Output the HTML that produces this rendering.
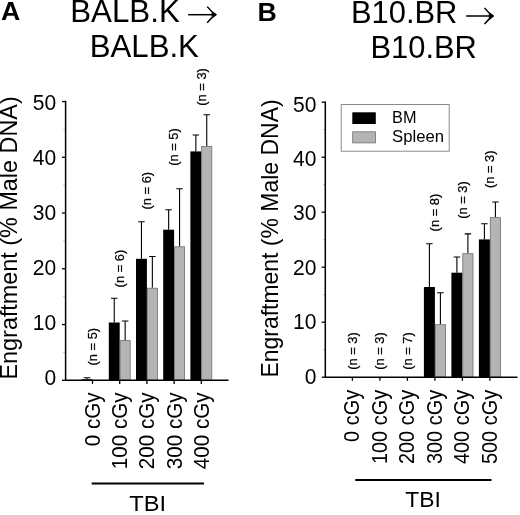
<!DOCTYPE html>
<html lang="en"><head><meta charset="utf-8"><title>Engraftment vs TBI</title>
<style>
html,body{margin:0;padding:0;background:#fff;}
body{width:520px;height:515px;overflow:hidden;}
svg{display:block;will-change:transform;filter:grayscale(1);font-family:"Liberation Sans",Arial,Helvetica,sans-serif;fill:#000;}
.eb{stroke:#000;stroke-width:1.1;fill:none;}
.gb{fill:#b4b4b4;stroke:#6e6e6e;stroke-width:0.8;}
.ax{stroke:#000;stroke-width:1.5;fill:none;}
.tk{stroke:#000;stroke-width:1.3;fill:none;}
.mt{stroke:#c8c8c8;stroke-width:1;fill:none;}
.pl{font-size:26.7px;font-weight:bold;}
.tt{font-size:32px;text-anchor:start;}
.yl{font-size:23.6px;}
.yt{font-size:22.8px;text-anchor:end;}
.xt{font-size:21.6px;text-anchor:end;}
.nl{font-size:12.9px;stroke:#000;stroke-width:0.25px;}
.tb{font-size:22.6px;text-anchor:middle;}
.lg{font-size:16.2px;}
</style></head><body>
<svg width="520" height="515" viewBox="0 0 520 515">
<rect width="520" height="515" fill="#fff"/>
<g id="panelA">
<text x="1.1" y="19.5" class="pl">A</text>
<text x="70.2" y="21.8" class="tt" textLength="109.6" lengthAdjust="spacingAndGlyphs">BALB.K</text>
<path d="M188.20 14.70H215.10" stroke="#000" stroke-width="1.5" fill="none"/><path d="M207.20 6.60Q211.00 11.40 216.00 14.70Q211.00 18.00 207.20 22.80" stroke="#000" stroke-width="1.5" fill="none" stroke-linejoin="round"/><path d="M216.60 14.70L211.60 12.30V17.10Z" fill="#000"/>
<text x="89.7" y="57.0" class="tt" textLength="109.2" lengthAdjust="spacingAndGlyphs">BALB.K</text>
<text transform="translate(17.00 379.50) rotate(-90)" class="yl" textLength="283.2" lengthAdjust="spacingAndGlyphs">Engraftment (% Male DNA)</text>
<path d="M62.00 380.30H65.60" class="tk"/>
<text x="56.1" y="385.40" class="yt" textLength="11.7" lengthAdjust="spacingAndGlyphs">0</text>
<path d="M62.00 324.55H65.60" class="tk"/>
<text x="56.1" y="330.30" class="yt" textLength="23.4" lengthAdjust="spacingAndGlyphs">10</text>
<path d="M62.00 268.80H65.60" class="tk"/>
<text x="56.1" y="275.20" class="yt" textLength="23.4" lengthAdjust="spacingAndGlyphs">20</text>
<path d="M62.00 213.05H65.60" class="tk"/>
<text x="56.1" y="220.10" class="yt" textLength="23.4" lengthAdjust="spacingAndGlyphs">30</text>
<path d="M62.00 157.30H65.60" class="tk"/>
<text x="56.1" y="165.00" class="yt" textLength="23.4" lengthAdjust="spacingAndGlyphs">40</text>
<path d="M62.00 101.55H65.60" class="tk"/>
<text x="56.1" y="109.90" class="yt" textLength="23.4" lengthAdjust="spacingAndGlyphs">50</text>
<path d="M63.10 352.43H65.60" class="mt"/>
<path d="M63.10 296.68H65.60" class="mt"/>
<path d="M63.10 240.93H65.60" class="mt"/>
<path d="M63.10 185.18H65.60" class="mt"/>
<path d="M63.10 129.43H65.60" class="mt"/>
<path d="M87.05 379.30V377.80M83.80 377.80H90.30" class="eb"/>
<rect x="81.60" y="379.30" width="10.90" height="1.00" fill="#000"/>
<path d="M114.25 322.50V298.30M111.00 298.30H117.50" class="eb"/>
<rect x="108.80" y="322.50" width="10.90" height="57.80" fill="#000"/>
<path d="M125.15 340.20V321.00M121.90 321.00H128.40" class="eb"/>
<rect x="120.10" y="340.60" width="10.10" height="39.70" class="gb"/>
<path d="M141.45 258.80V221.70M138.20 221.70H144.70" class="eb"/>
<rect x="136.00" y="258.80" width="10.90" height="121.50" fill="#000"/>
<path d="M152.35 287.80V256.50M149.10 256.50H155.60" class="eb"/>
<rect x="147.30" y="288.20" width="10.10" height="92.10" class="gb"/>
<path d="M168.65 229.70V209.80M165.40 209.80H171.90" class="eb"/>
<rect x="163.20" y="229.70" width="10.90" height="150.60" fill="#000"/>
<path d="M179.55 246.40V188.80M176.30 188.80H182.80" class="eb"/>
<rect x="174.50" y="246.80" width="10.10" height="133.50" class="gb"/>
<path d="M195.85 151.40V135.00M192.60 135.00H199.10" class="eb"/>
<rect x="190.40" y="151.40" width="10.90" height="228.90" fill="#000"/>
<path d="M206.75 146.00V114.70M203.50 114.70H210.00" class="eb"/>
<rect x="201.70" y="146.40" width="10.10" height="233.90" class="gb"/>
<path d="M65.60 100.85V380.30H228.5" class="ax"/>
<path d="M92.50 380.30V383.90" class="tk"/>
<text transform="translate(99.90 392.50) rotate(-90)" class="xt" textLength="53.8" lengthAdjust="spacingAndGlyphs">0 cGy</text>
<path d="M119.70 380.30V383.90" class="tk"/>
<text transform="translate(127.10 392.50) rotate(-90)" class="xt" textLength="76.7" lengthAdjust="spacingAndGlyphs">100 cGy</text>
<path d="M146.90 380.30V383.90" class="tk"/>
<text transform="translate(154.30 392.50) rotate(-90)" class="xt" textLength="76.7" lengthAdjust="spacingAndGlyphs">200 cGy</text>
<path d="M174.10 380.30V383.90" class="tk"/>
<text transform="translate(181.50 392.50) rotate(-90)" class="xt" textLength="76.7" lengthAdjust="spacingAndGlyphs">300 cGy</text>
<path d="M201.30 380.30V383.90" class="tk"/>
<text transform="translate(208.70 392.50) rotate(-90)" class="xt" textLength="76.7" lengthAdjust="spacingAndGlyphs">400 cGy</text>
<text transform="translate(96.70 365.50) rotate(-90)" class="nl">(n = 5)</text>
<text transform="translate(123.90 287.40) rotate(-90)" class="nl">(n = 6)</text>
<text transform="translate(151.10 209.50) rotate(-90)" class="nl">(n = 6)</text>
<text transform="translate(178.30 165.80) rotate(-90)" class="nl">(n = 5)</text>
<text transform="translate(205.50 105.70) rotate(-90)" class="nl">(n = 3)</text>
<path d="M91.7 483.5H204" stroke="#000" stroke-width="2.2"/>
<text x="147.6" y="511.1" class="tb" textLength="36.8" lengthAdjust="spacingAndGlyphs">TBI</text>
</g>
<g id="panelB">
<text x="257.5" y="20.5" class="pl">B</text>
<text x="351.0" y="23.4" class="tt" style="font-size:31.2px" textLength="106.4" lengthAdjust="spacingAndGlyphs">B10.BR</text>
<path d="M466.10 16.00H492.30" stroke="#000" stroke-width="1.5" fill="none"/><path d="M484.40 7.90Q488.20 12.70 493.20 16.00Q488.20 19.30 484.40 24.10" stroke="#000" stroke-width="1.5" fill="none" stroke-linejoin="round"/><path d="M493.80 16.00L488.80 13.60V18.40Z" fill="#000"/>
<text x="370.5" y="58.0" class="tt" style="font-size:31.2px" textLength="106.4" lengthAdjust="spacingAndGlyphs">B10.BR</text>
<text transform="translate(277.60 377.60) rotate(-90)" class="yl" textLength="278.2" lengthAdjust="spacingAndGlyphs">Engraftment (% Male DNA)</text>
<path d="M321.70 377.20H325.30" class="tk"/>
<text x="316.4" y="383.50" class="yt" textLength="11.7" lengthAdjust="spacingAndGlyphs">0</text>
<path d="M321.70 322.20H325.30" class="tk"/>
<text x="316.4" y="329.12" class="yt" textLength="23.4" lengthAdjust="spacingAndGlyphs">10</text>
<path d="M321.70 267.20H325.30" class="tk"/>
<text x="316.4" y="274.74" class="yt" textLength="23.4" lengthAdjust="spacingAndGlyphs">20</text>
<path d="M321.70 212.20H325.30" class="tk"/>
<text x="316.4" y="220.36" class="yt" textLength="23.4" lengthAdjust="spacingAndGlyphs">30</text>
<path d="M321.70 157.20H325.30" class="tk"/>
<text x="316.4" y="165.98" class="yt" textLength="23.4" lengthAdjust="spacingAndGlyphs">40</text>
<path d="M321.70 102.20H325.30" class="tk"/>
<text x="316.4" y="111.60" class="yt" textLength="23.4" lengthAdjust="spacingAndGlyphs">50</text>
<path d="M322.80 349.70H325.30" class="mt"/>
<path d="M322.80 294.70H325.30" class="mt"/>
<path d="M322.80 239.70H325.30" class="mt"/>
<path d="M322.80 184.70H325.30" class="mt"/>
<path d="M322.80 129.70H325.30" class="mt"/>



<path d="M429.40 287.00V243.70M426.15 243.70H432.65" class="eb"/>
<rect x="423.90" y="287.00" width="11.00" height="90.20" fill="#000"/>
<path d="M440.40 324.30V292.70M437.15 292.70H443.65" class="eb"/>
<rect x="435.30" y="324.70" width="10.20" height="52.50" class="gb"/>
<path d="M456.90 272.70V257.00M453.65 257.00H460.15" class="eb"/>
<rect x="451.40" y="272.70" width="11.00" height="104.50" fill="#000"/>
<path d="M467.90 253.30V233.90M464.65 233.90H471.15" class="eb"/>
<rect x="462.80" y="253.70" width="10.20" height="123.50" class="gb"/>
<path d="M484.40 239.40V223.80M481.15 223.80H487.65" class="eb"/>
<rect x="478.90" y="239.40" width="11.00" height="137.80" fill="#000"/>
<path d="M495.40 217.20V202.00M492.15 202.00H498.65" class="eb"/>
<rect x="490.30" y="217.60" width="10.20" height="159.60" class="gb"/>
<path d="M325.30 101.50V377.20H517.5" class="ax"/>
<path d="M352.40 377.20V380.80" class="tk"/>
<text transform="translate(359.40 389.90) rotate(-90)" class="xt" style="font-size:21.5px" textLength="52.0" lengthAdjust="spacingAndGlyphs">0 cGy</text>
<path d="M379.90 377.20V380.80" class="tk"/>
<text transform="translate(386.90 389.90) rotate(-90)" class="xt" style="font-size:21.5px" textLength="74.2" lengthAdjust="spacingAndGlyphs">100 cGy</text>
<path d="M407.40 377.20V380.80" class="tk"/>
<text transform="translate(414.40 389.90) rotate(-90)" class="xt" style="font-size:21.5px" textLength="74.2" lengthAdjust="spacingAndGlyphs">200 cGy</text>
<path d="M434.90 377.20V380.80" class="tk"/>
<text transform="translate(441.90 389.90) rotate(-90)" class="xt" style="font-size:21.5px" textLength="74.2" lengthAdjust="spacingAndGlyphs">300 cGy</text>
<path d="M462.40 377.20V380.80" class="tk"/>
<text transform="translate(469.40 389.90) rotate(-90)" class="xt" style="font-size:21.5px" textLength="74.2" lengthAdjust="spacingAndGlyphs">400 cGy</text>
<path d="M489.90 377.20V380.80" class="tk"/>
<text transform="translate(496.90 389.90) rotate(-90)" class="xt" style="font-size:21.5px" textLength="74.2" lengthAdjust="spacingAndGlyphs">500 cGy</text>
<text transform="translate(356.60 369.80) rotate(-90)" class="nl">(n = 3)</text>
<text transform="translate(384.10 369.80) rotate(-90)" class="nl">(n = 3)</text>
<text transform="translate(411.60 369.80) rotate(-90)" class="nl">(n = 7)</text>
<text transform="translate(439.10 231.40) rotate(-90)" class="nl">(n = 8)</text>
<text transform="translate(466.60 218.80) rotate(-90)" class="nl">(n = 3)</text>
<text transform="translate(494.10 188.10) rotate(-90)" class="nl">(n = 3)</text>
<rect x="341.2" y="104.5" width="108" height="46.7" fill="#fff" stroke="#8a8a8a" stroke-width="1"/>
<rect x="352.3" y="112.3" width="23.5" height="11.7" fill="#000"/>
<rect x="352.7" y="131.8" width="22.7" height="11.1" class="gb"/>
<text x="392.1" y="123.2" class="lg" textLength="24.4" lengthAdjust="spacingAndGlyphs">BM</text>
<text x="392.1" y="142.1" class="lg" textLength="52" lengthAdjust="spacingAndGlyphs">Spleen</text>
<path d="M355.3 480H491.5" stroke="#000" stroke-width="2.2"/>
<text x="423.1" y="507.2" class="tb" style="font-size:22.9px">TBI</text>
</g>
</svg></body></html>
